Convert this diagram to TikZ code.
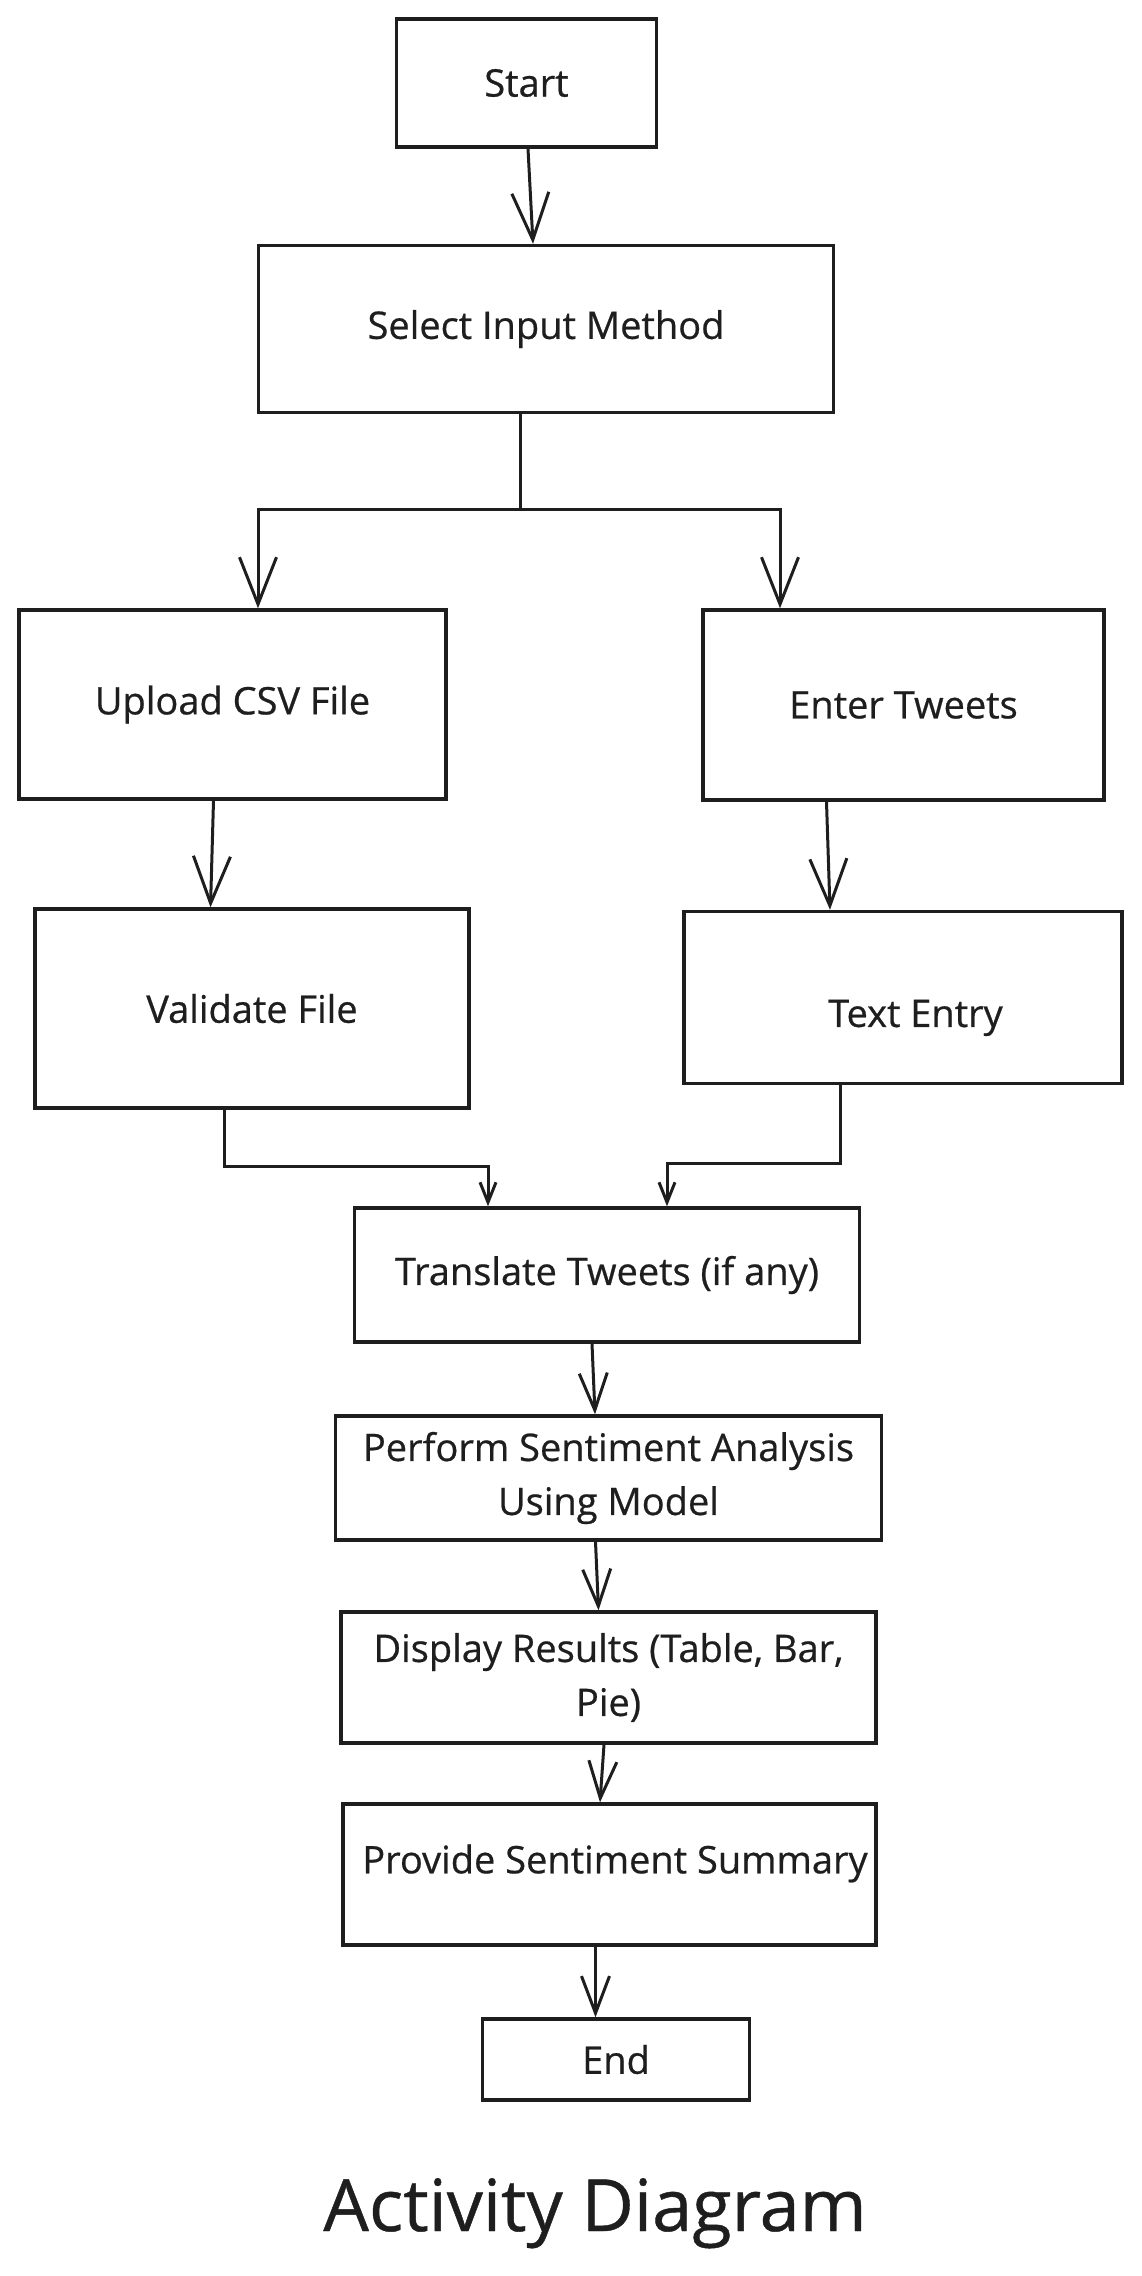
\documentclass[tikz,border=0pt]{standalone}
\usepackage{fontspec}
\setmainfont{Open Sans}[FakeBold=0.6]
\usetikzlibrary{arrows.meta}
\definecolor{ink}{HTML}{1E1E1E}
\tikzstyle{every edge} = [draw,ink,line width=1.5pt,-{Straight Barb[length=23.5pt,width=18.5pt]}]
\tikzstyle{activity} = [draw=ink,text=ink,rectangle,line width=1.7pt,inner sep=2pt,align=center,font=\fontsize{19}{27}\selectfont]
\tikzstyle{flow} = [draw=ink,line width=1.5pt]
\tikzstyle{shorttip} = [-{Straight Barb[length=18.5pt,width=14pt]}]
\tikzstyle{tinytip} = [-{Straight Barb[length=10pt,width=8pt]}]

\begin{document}
\begin{tikzpicture}[x=0.5pt,y=-0.5pt]
\useasboundingbox (0,0) rectangle (1141,2276);

\node[activity,minimum width=130pt,minimum height=64pt] (start) at (526.5,83) {Start};
\node[activity,minimum width=287.5pt,minimum height=83.5pt] (select) at (546,329) {Select Input Method};
\node[activity,minimum width=213.5pt,minimum height=94.5pt] (upload) at (232.5,704.5) {Upload CSV File};
\node[activity,minimum width=200.5pt,minimum height=95pt] (enter) at (903.5,705) {Enter Tweets};
\node[activity,minimum width=217pt,minimum height=99.5pt] (validate) at (252,1008.5) {Validate File};
\node[activity,minimum width=219pt,minimum height=86pt,text height=34pt,text depth=4.6pt] (textentry) at (903,997.5) {\hspace*{12.5pt}Text Entry};
\node[activity,minimum width=252.75pt,minimum height=67pt] (translate) at (607,1275) {Translate Tweets (if any)};
\node[activity,minimum width=273pt,minimum height=62pt] (perform) at (608.5,1478) {Perform Sentiment Analysis\\Using Model};
\node[activity,minimum width=267.5pt,minimum height=65.5pt] (display) at (608.5,1677.5) {Display Results (Table, Bar,\\Pie)};
\node[activity,minimum width=266.5pt,minimum height=70.5pt,text height=14.4pt,text depth=15.6pt] (summary) at (609.5,1874.5) {\hspace*{5.5pt}Provide Sentiment Summary};
\node[activity,minimum width=133.75pt,minimum height=40.5pt] (end) at (616,2059.5) {End};
\node[text=ink,anchor=base,font=\fontsize{36}{40}\selectfont] (title) at (595,2231) {Activity Diagram};

\draw ([xshift=0.75pt]start.south) edge ([xshift=-6.5pt]select.north);
\draw[flow] ([xshift=-13pt]select.south) -- ++(0,95.5) coordinate (split);
\draw[flow,-{Straight Barb[length=23.5pt,width=18.5pt]}] (split) -| ([xshift=12.75pt]upload.north);
\draw[flow,-{Straight Barb[length=23.5pt,width=18.5pt]}] (split) -| ([xshift=-61.75pt]enter.north);
\draw ([xshift=-9.5pt]upload.south) edge ([xshift=-20.75pt]validate.north);
\draw ([xshift=-38.5pt]enter.south) edge ([xshift=-36.5pt]textentry.north);
\draw[flow,tinytip] ([xshift=-14pt]validate.south) -- ++(0,57) -| ([xshift=-59.5pt]translate.north);
\draw[flow,tinytip] ([xshift=-31.5pt]textentry.south) -- ++(0,78.5) -| ([xshift=30pt]translate.north);
\draw ([xshift=-7.5pt]translate.south) edge[shorttip] ([xshift=-6.75pt]perform.north);
\draw ([xshift=-6.5pt]perform.south) edge[shorttip] ([xshift=-5pt]display.north);
\draw ([xshift=-2.25pt]display.south) edge[shorttip] ([xshift=-4.75pt]summary.north);
\draw ([xshift=-7pt]summary.south) edge[shorttip] ([xshift=-10.25pt]end.north);

\end{tikzpicture}
\end{document}
